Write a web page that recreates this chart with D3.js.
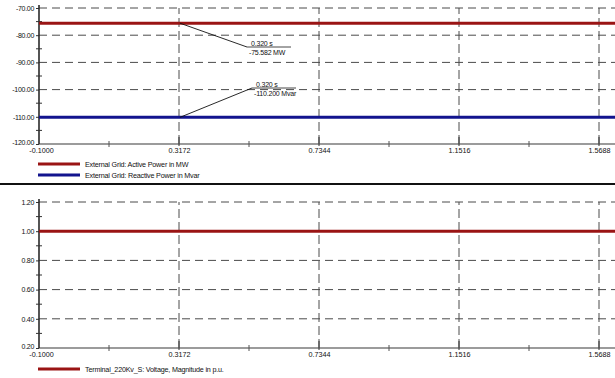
<!DOCTYPE html>
<html>
<head>
<meta charset="utf-8">
<script src="https://cdn.jsdelivr.net/npm/d3@7"></script>
<style>
  html, body { margin: 0; padding: 0; background: #fff; }
  svg { display: block; font-family: "Liberation Sans", Arial, sans-serif; }
  text { fill: #111; }
</style>
</head>
<body>
<svg id="chart" width="615" height="378"></svg>
<script>
// Simulation time samples (s)
const times = [-0.1, 0.32, 1.62];

// External grid power flows
const activePowerMW = [-75.582, -75.582, -75.582];
const reactivePowerMvar = [-110.2, -110.2, -110.2];

// Terminal voltage magnitude (p.u.)
const voltagePU = [1.0, 1.0, 1.0];

// Axis ticks
const xTicks = [-0.1, 0.3172, 0.7344, 1.1516, 1.5688];
const powerTicks = [-120, -110, -100, -90, -80, -70];
const voltageTicks = [0.2, 0.4, 0.6, 0.8, 1.0, 1.2];

// Legend entries
const powerLegend = ["External Grid: Active Power in MW", "External Grid: Reactive Power in Mvar"];
const voltageLegend = ["Terminal_220Kv_S: Voltage, Magnitude in p.u."];

// Cursor readouts
const cursorTime = 0.32;

const svg = d3.select("#chart");
const W = 615;
const x = d3.scaleLinear().domain([-0.1, 1.5688]).range([39, 599]);
const plotRight = W;
const red = "#9a1414", blue = "#12148e";

// plain hyphen-minus formatting, as the plotting tool prints numbers
const fmt = spec => { const f = d3.format(spec); return v => f(v).replace("\u2212", "-"); };

function midpoints(arr) {
  const m = [];
  for (let i = 0; i < arr.length - 1; i++) m.push((arr[i] + arr[i + 1]) / 2);
  return m;
}

function panel(y, yTicks, yFmt, top, bottom) {
  const g = svg.append("g");
  const clipId = "clip" + Math.round(top);
  svg.append("clipPath").attr("id", clipId)
    .append("rect").attr("x", x.range()[0]).attr("y", top - 4)
    .attr("width", plotRight - x.range()[0]).attr("height", bottom - top + 4);

  // horizontal grid
  g.append("g").selectAll("line").data(yTicks.slice(1)).join("line")
    .attr("x1", x.range()[0]).attr("x2", plotRight)
    .attr("y1", d => y(d)).attr("y2", d => y(d))
    .attr("stroke", "#4a4a4a").attr("stroke-width", 1)
    .attr("stroke-dasharray", "8,5");
  // vertical grid
  g.append("g").selectAll("line").data(xTicks.slice(1)).join("line")
    .attr("x1", d => x(d)).attr("x2", d => x(d))
    .attr("y1", y.range()[0]).attr("y2", top)
    .attr("stroke", "#4a4a4a").attr("stroke-width", 1)
    .attr("stroke-dasharray", "9,4");

  // x axis
  const xa = g.append("g").attr("transform", `translate(0,${bottom})`)
    .call(d3.axisBottom(x).tickValues(xTicks).tickFormat(fmt(".4f")).tickSize(0).tickPadding(4));
  xa.select(".domain").remove();
  xa.append("line").attr("x1", x.range()[0]).attr("x2", plotRight)
    .attr("stroke", "#7a7a7a").attr("stroke-width", 1.5);
  xa.selectAll(".tick text").attr("font-size", 7.2).attr("fill", "#111")
    .attr("font-family", "Liberation Sans, Arial, sans-serif");
  xa.selectAll(".tick").filter((d, i) => i === 0).select("text").attr("dx", 2);
  xa.selectAll("line.maj").data(xTicks.slice(1)).join("line").attr("class", "maj")
    .attr("x1", d => x(d)).attr("x2", d => x(d)).attr("y1", -7).attr("y2", 2)
    .attr("stroke", "#333").attr("stroke-width", 1);
  xa.selectAll("line.min").data(midpoints(xTicks)).join("line").attr("class", "min")
    .attr("x1", d => x(d)).attr("x2", d => x(d)).attr("y1", -3).attr("y2", 3)
    .attr("stroke", "#555").attr("stroke-width", 1);

  // y axis
  const ya = g.append("g").attr("transform", `translate(${x.range()[0]},0)`)
    .call(d3.axisLeft(y).tickValues(yTicks).tickFormat(yFmt).tickSize(3).tickPadding(2));
  ya.select(".domain").remove();
  ya.append("line").attr("y1", top - 3).attr("y2", bottom)
    .attr("stroke", "#2a2a2a").attr("stroke-width", 1.6);
  ya.selectAll(".tick line").attr("stroke", "#333");
  ya.selectAll(".tick text").attr("font-size", 7).attr("fill", "#111")
    .attr("font-family", "Liberation Sans, Arial, sans-serif").attr("letter-spacing", -0.3);
  // lowest label sits a touch above the axis corner
  ya.selectAll(".tick").filter((d, i) => i === 0).select("text").attr("dy", "0.1em");
  ya.selectAll("line.min").data(midpoints(yTicks)).join("line").attr("class", "min")
    .attr("x1", -3).attr("x2", 3).attr("y1", d => y(d)).attr("y2", d => y(d))
    .attr("stroke", "#333").attr("stroke-width", 1);

  return { g, clipId };
}

function series(p, y, values, color) {
  const line = d3.line().x((d, i) => x(times[i])).y(d => y(d));
  p.g.append("path").datum(values).attr("d", line)
    .attr("clip-path", `url(#${p.clipId})`)
    .attr("fill", "none").attr("stroke", color).attr("stroke-width", 3);
}

function legend(entries, colors, y0) {
  entries.forEach((t, i) => {
    const yy = y0 + i * 11;
    svg.append("line").attr("x1", 38).attr("x2", 80).attr("y1", yy).attr("y2", yy)
      .attr("stroke", colors[i]).attr("stroke-width", 3);
    svg.append("text").attr("x", 85).attr("y", yy + 2.5).attr("font-size", 7.2)
      .attr("letter-spacing", -0.2).text(t);
  });
}

function readout(y, value, label, tx, ty) {
  const px = x(cursorTime), py = y(value);
  svg.append("line").attr("x1", px).attr("y1", py).attr("x2", tx).attr("y2", ty)
    .attr("stroke", "#111").attr("stroke-width", 0.9);
  svg.append("line").attr("x1", tx).attr("y1", ty).attr("x2", tx + 44).attr("y2", ty)
    .attr("stroke", "#333").attr("stroke-width", 0.9);
  svg.append("text").attr("x", tx + 4).attr("y", ty - 1.5).attr("font-size", 7)
    .attr("letter-spacing", -0.2).text(fmt(".3f")(cursorTime) + " s");
  svg.append("text").attr("x", tx + 2).attr("y", ty + 7.5).attr("font-size", 7)
    .attr("letter-spacing", -0.2).text(label);
}

// Power panel
const yP = d3.scaleLinear().domain([-120, -70]).range([144, 8]);
const p1 = panel(yP, powerTicks, fmt(".2f"), 8, 144);
series(p1, yP, activePowerMW, red);
series(p1, yP, reactivePowerMvar, blue);
legend(powerLegend, [red, blue], 164);
readout(yP, activePowerMW[1], fmt(".3f")(activePowerMW[1]) + " MW", 247, 47);
readout(yP, reactivePowerMvar[1], fmt(".3f")(reactivePowerMvar[1]) + " Mvar", 252, 88);

// separator
svg.append("line").attr("x1", 0).attr("x2", W).attr("y1", 184).attr("y2", 184)
  .attr("stroke", "#111").attr("stroke-width", 2);

// Voltage panel
const yV = d3.scaleLinear().domain([0.2, 1.2]).range([348, 202]);
const p2 = panel(yV, voltageTicks, fmt(".2f"), 202, 348);
series(p2, yV, voltagePU, red);
legend(voltageLegend, [red], 369);
</script>
</body>
</html>
